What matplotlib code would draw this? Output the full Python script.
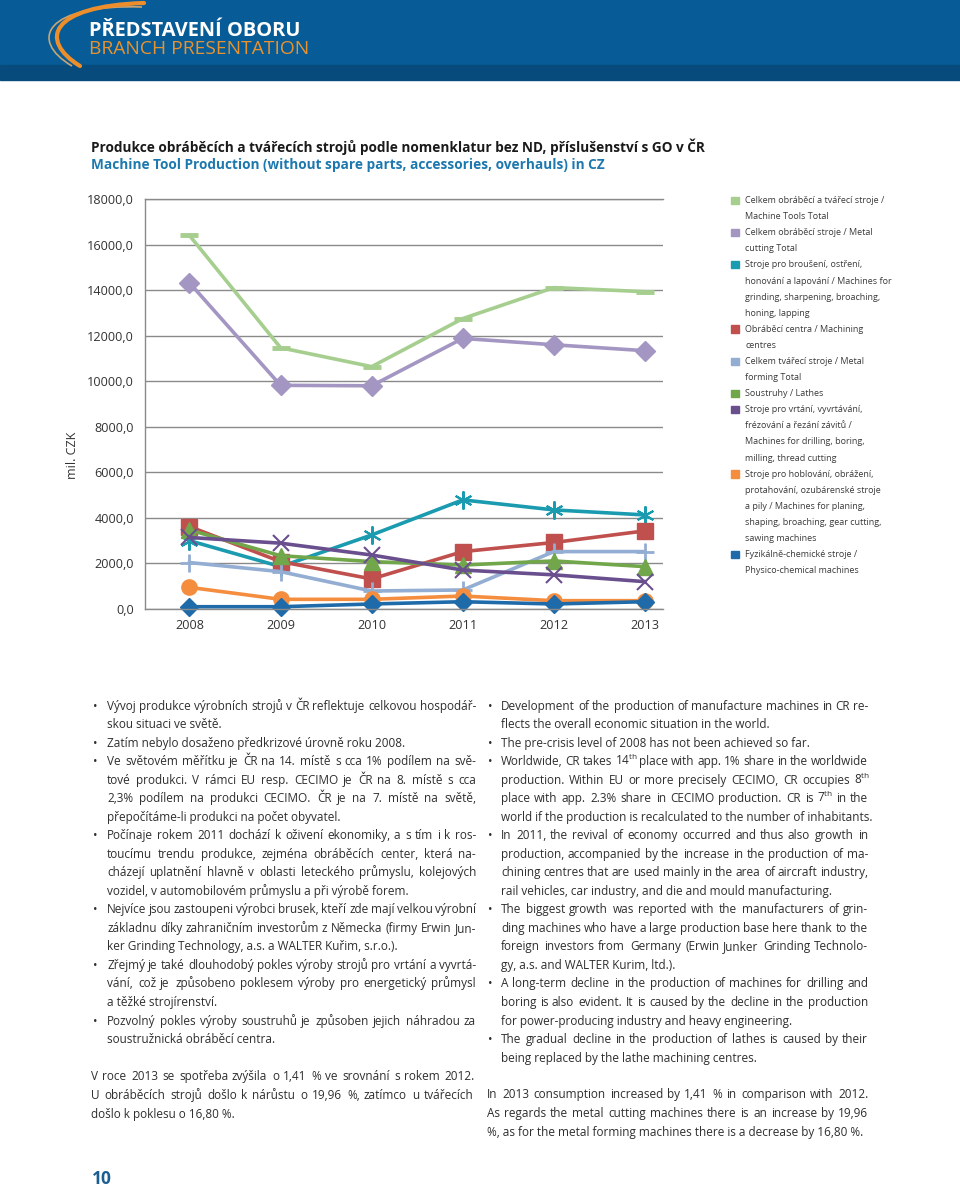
import matplotlib
matplotlib.use('Agg')
import matplotlib.pyplot as plt
from matplotlib.path import Path
from matplotlib.patches import PathPatch, Rectangle

plt.rcParams['font.family'] = 'Open Sans'
plt.rcParams['mathtext.fontset'] = 'custom'
plt.rcParams['mathtext.rm'] = 'Open Sans'
plt.rcParams['mathtext.it'] = 'Open Sans'

# ---------------- data ----------------
years = ['2008', '2009', '2010', '2011', '2012', '2013']
machine_tools_total = [16400, 11470, 10640, 12750, 14110, 13930]
metal_cutting_total = [14320, 9820, 9800, 11880, 11600, 11340]
grinding = [3000, 1860, 3250, 4790, 4350, 4130]
machining_centres = [3620, 2080, 1320, 2520, 2920, 3430]
metal_forming_total = [2040, 1640, 790, 835, 2520, 2520]
lathes = [3470, 2340, 2080, 1930, 2110, 1860]
drilling = [3140, 2890, 2370, 1710, 1500, 1200]
planing = [950, 425, 425, 570, 365, 365]
physico_chemical = [100, 100, 220, 320, 220, 320]
y_ticks = [0, 2000, 4000, 6000, 8000, 10000, 12000, 14000, 16000, 18000]

series_labels = [
    "Celkem obráběcí a tvářecí stroje /\nMachine Tools Total",
    "Celkem obráběcí stroje / Metal\ncutting Total",
    "Stroje pro broušení, ostření,\nhonování a lapování / Machines for\ngrinding, sharpening, broaching,\nhoning, lapping",
    "Obráběcí centra / Machining\ncentres",
    "Celkem tvářecí stroje / Metal\nforming Total",
    "Soustruhy / Lathes",
    "Stroje pro vrtání, vyvrtávání,\nfrézování a řezání závitů /\nMachines for drilling, boring,\nmilling, thread cutting",
    "Stroje pro hoblování, obrážení,\nprotahování, ozubárenské stroje\na pily / Machines for planing,\nshaping, broaching, gear cutting,\nsawing machines",
    "Fyzikálně-chemické stroje /\nPhysico-chemical machines",
]
series_values = [machine_tools_total, metal_cutting_total, grinding, machining_centres,
                 metal_forming_total, lathes, drilling, planing, physico_chemical]
colors = ['#A6CE8F', '#A496C2', '#1B9BAF', '#C0504D', '#93ADD3',
          '#71A64A', '#6A4F8E', '#F58D3F', '#1F6BAA']
markers = ['_', 'D', (6, 2, 0), 's', '+', '^', 'x', 'o', 'D']
msizes = [13, 10, 13, 11, 13, 11, 11, 11, 9]
mews = [3.5, 1, 1.5, 1, 2, 1, 1.5, 1, 1]

TH = "$^{\\mathrm{th}}$"
left_lines = [
    ("•", "Vývoj produkce výrobních strojů v ČR reflektuje celkovou hospodář-", True),
    ("", "skou situaci ve světě.", False),
    ("•", "Zatím nebylo dosaženo předkrizové úrovně roku 2008.", False),
    ("•", "Ve světovém měřítku je ČR na 14. místě s cca 1% podílem na svě-", True),
    ("", "tové produkci. V rámci EU resp. CECIMO je ČR na 8. místě s cca", True),
    ("", "2,3% podílem na produkci CECIMO. ČR je na 7. místě na světě,", True),
    ("", "přepočítáme-li produkci na počet obyvatel.", False),
    ("•", "Počínaje rokem 2011 dochází k oživení ekonomiky, a s tím i k ros-", True),
    ("", "toucímu trendu produkce, zejména obráběcích center, která na-", True),
    ("", "cházejí uplatnění hlavně v oblasti leteckého průmyslu, kolejových", True),
    ("", "vozidel, v automobilovém průmyslu a při výrobě forem.", False),
    ("•", "Nejvíce jsou zastoupeni výrobci brusek, kteří zde mají velkou výrobní", True),
    ("", "základnu díky zahraničním investorům z Německa (firmy Erwin Jun-", True),
    ("", "ker Grinding Technology, a.s. a WALTER Kuřim, s.r.o.).", False),
    ("•", "Zřejmý je také dlouhodobý pokles výroby strojů pro vrtání a vyvrtá-", True),
    ("", "vání, což je způsobeno poklesem výroby pro energetický průmysl", True),
    ("", "a těžké strojírenství.", False),
    ("•", "Pozvolný pokles výroby soustruhů je způsoben jejich náhradou za", True),
    ("", "soustružnická obráběcí centra.", False),
]
left_para = [
    ("V roce 2013 se spotřeba zvýšila o 1,41 % ve srovnání s rokem 2012.", True),
    ("U obráběcích strojů došlo k nárůstu o 19,96 %, zatímco u tvářecích", True),
    ("došlo k poklesu o 16,80 %.", False),
]
right_lines = [
    ("•", "Development of the production of manufacture machines in CR re-", True),
    ("", "flects the overall economic situation in the world.", False),
    ("•", "The pre-crisis level of 2008 has not been achieved so far.", False),
    ("•", "Worldwide, CR takes 14" + TH + " place with app. 1% share in the worldwide", True),
    ("", "production. Within EU or more precisely CECIMO, CR occupies 8" + TH, True),
    ("", "place with app. 2.3% share in CECIMO production. CR is 7" + TH + " in the", True),
    ("", "world if the production is recalculated to the number of inhabitants.", False),
    ("•", "In 2011, the revival of economy occurred and thus also growth in", True),
    ("", "production, accompanied by the increase in the production of ma-", True),
    ("", "chining centres that are used mainly in the area of aircraft industry,", True),
    ("", "rail vehicles, car industry, and die and mould manufacturing.", False),
    ("•", "The biggest growth was reported with the manufacturers of grin-", True),
    ("", "ding machines who have a large production base here thank to the", True),
    ("", "foreign investors from Germany (Erwin Junker Grinding Technolo-", True),
    ("", "gy, a.s. and WALTER Kurim, ltd.).", False),
    ("•", "A long-term decline in the production of machines for drilling and", True),
    ("", "boring is also evident. It is caused by the decline in the production", True),
    ("", "for power-producing industry and heavy engineering.", False),
    ("•", "The gradual decline in the production of lathes is caused by their", True),
    ("", "being replaced by the lathe machining centres.", False),
]
right_para = [
    ("In 2013 consumption increased by 1,41 % in comparison with 2012.", True),
    ("As regards the metal cutting machines there is an increase by 19,96", True),
    ("%, as for the metal forming machines there is a decrease by 16,80 %.", False),
]

# ---------------- figure ----------------
W, H = 960, 1190
fig = plt.figure(figsize=(W / 100, H / 100), dpi=100)
bg = fig.add_axes([0, 0, 1, 1])
bg.set_xlim(0, W)
bg.set_ylim(H, 0)
bg.axis('off')

# header
bg.add_patch(Rectangle((0, 0), W, 66, color='#075C97', zorder=0))
bg.add_patch(Rectangle((0, 65), W, 15, color='#064B7C', zorder=0))
p1 = Path([(72, 66), (28, 40), (45, 4), (142, 7)],
          [Path.MOVETO, Path.CURVE4, Path.CURVE4, Path.CURVE4])
bg.add_patch(PathPatch(p1, fill=False, ec='#C8A574', lw=1.2, zorder=1))
p2 = Path([(80, 66), (38, 40), (50, 6), (144, 3)],
          [Path.MOVETO, Path.CURVE4, Path.CURVE4, Path.CURVE4])
bg.add_patch(PathPatch(p2, fill=False, ec='#EE8E2A', lw=3.0, capstyle='round', zorder=2))
bg.text(89, 30.5, "PŘEDSTAVENÍ OBORU", color='white', fontsize=14.4, fontweight='bold',
        va='center', ha='left')
bg.text(89, 48.5, "BRANCH PRESENTATION", color='#E8922F', fontsize=13.9,
        va='center', ha='left')

# title
bg.text(91, 147, "Produkce obráběcích a tvářecích strojů podle nomenklatur bez ND, příslušenství s GO v ČR",
        fontsize=9.8, fontweight='bold', color='#1a1a1a', va='center', ha='left')
bg.text(91, 165.5, "Machine Tool Production (without spare parts, accessories, overhauls) in CZ",
        fontsize=9.8, fontweight='bold', color='#1C78AE', va='center', ha='left')

# ---------------- chart ----------------
ax = fig.add_axes([145 / W, 1 - 609 / H, (663 - 145) / W, (609 - 199) / H])
xs = list(range(len(years)))
for vals, c, m, ms, mew in zip(series_values, colors, markers, msizes, mews):
    ax.plot(xs, vals, color=c, lw=2.6, marker=m, markersize=ms, markeredgewidth=mew,
            markerfacecolor=c, markeredgecolor=c, clip_on=False, solid_joinstyle='round')
ax.set_xlim(-0.488, 5.198)
ax.set_ylim(0, 18000)
ax.set_yticks(y_ticks)
ax.set_yticklabels([f"{v:.1f}".replace('.', ',') for v in y_ticks])
ax.set_xticks(xs)
ax.set_xticklabels(years)
ax.grid(axis='y', color='#8a8a8a', lw=1.0)
ax.set_axisbelow(True)
ax.tick_params(length=0, labelsize=9.1, labelcolor='#333333')
ax.tick_params(axis='y', pad=8)
ax.tick_params(axis='x', pad=7)
for s in ['left', 'top', 'bottom']:
    ax.spines[s].set_color('#8a8a8a')
    ax.spines[s].set_linewidth(1.0)
ax.spines['right'].set_visible(False)
ax.set_facecolor('none')
bg.text(72, 455, "mil. CZK", rotation=90, fontsize=9, color='#333333', va='center', ha='center')

# legend
ly = 200.5
ldy = 16.1
for lab, c in zip(series_labels, colors):
    parts = lab.split('\n')
    bg.add_patch(Rectangle((731, ly - 4), 7.5, 7.5, color=c, zorder=3))
    for j, ptxt in enumerate(parts):
        bg.text(745, ly + j * ldy, ptxt, fontsize=6.5, color='#3a3a3a', va='center', ha='left')
    ly += ldy * len(parts)

# ---------------- body text ----------------
renderer = fig.canvas.get_renderer()
FS = 8.45
TC = '#2e2e2e'


def width_of(s):
    t = bg.text(0, 0, s, fontsize=FS)
    w = t.get_window_extent(renderer).width
    t.remove()
    return w


BAR2 = width_of('||')


def advance_of(word):
    # pen advance of a word, measured between two bars
    return width_of('|' + word + '|') - BAR2


def draw_line(x0, x1, y, text, justify):
    if not justify:
        bg.text(x0, y, text, fontsize=FS, color=TC, va='baseline', ha='left')
        return
    words = text.split(' ')
    ngaps = max(len(words) - 1, 1)
    widths = [advance_of(w) for w in words]
    gap = max((x1 - x0 - sum(widths)) / ngaps, 2.0)
    x = x0
    for w, wd in zip(words, widths):
        bg.text(round(x), y, w, fontsize=FS, color=TC, va='baseline', ha='left')
        x += wd + gap


LDY = 18.53
y = 709.5
for b, txt, j in left_lines:
    yy = round(y)
    if b:
        bg.text(93, yy, b, fontsize=FS, color=TC, va='baseline', ha='left')
    draw_line(107, 476, yy, txt, j)
    y += LDY
y = 1080.5
for txt, j in left_para:
    draw_line(91, 474, round(y), txt, j)
    y += LDY

y = 709.5
for b, txt, j in right_lines:
    yy = round(y)
    if b:
        bg.text(488, yy, b, fontsize=FS, color=TC, va='baseline', ha='left')
    draw_line(501, 868, yy, txt, j)
    y += LDY
y = 1098.5
for txt, j in right_para:
    draw_line(487, 868, round(y), txt, j)
    y += LDY

bg.text(92, 1179, "10", fontsize=12.5, fontweight='bold', color='#1B5E91', va='center', ha='left')

fig.savefig('out.png', dpi=100)
